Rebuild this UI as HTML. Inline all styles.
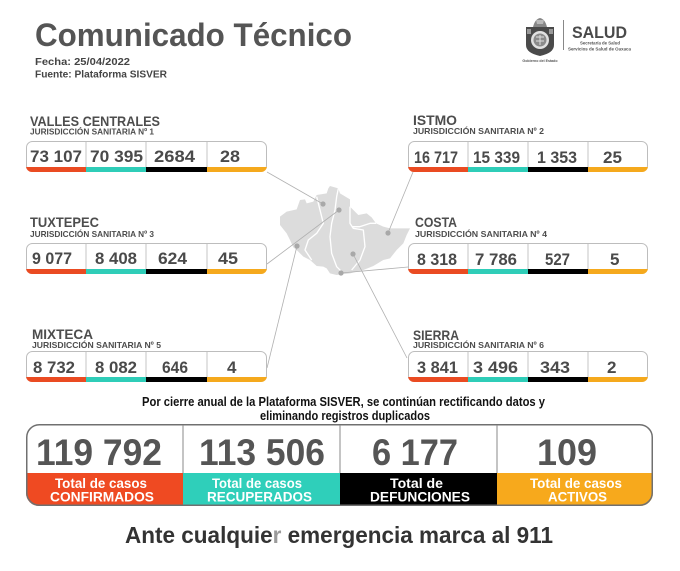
<!DOCTYPE html>
<html><head><meta charset="utf-8"><style>
html,body{margin:0;padding:0;background:#fff;}
svg{display:block;}
text{font-family:"Liberation Sans",sans-serif;font-weight:bold;}
</style></head><body>
<svg width="680" height="571" viewBox="0 0 680 571" xmlns="http://www.w3.org/2000/svg">
<defs>
<clipPath id="c1"><rect x="26" y="141" width="241" height="31" rx="6"/></clipPath>
<clipPath id="c2"><rect x="26" y="243" width="241" height="31" rx="6"/></clipPath>
<clipPath id="c3"><rect x="26" y="351" width="241" height="31" rx="6"/></clipPath>
<clipPath id="c4"><rect x="408" y="141" width="240" height="31" rx="6"/></clipPath>
<clipPath id="c5"><rect x="408" y="243" width="240" height="31" rx="6"/></clipPath>
<clipPath id="c6"><rect x="408" y="351" width="240" height="31" rx="6"/></clipPath>
<clipPath id="ct"><rect x="26" y="424" width="627" height="82" rx="13"/></clipPath>
</defs>

<!-- Header -->
<text x="35" y="46" font-size="32" fill="#555" textLength="317" lengthAdjust="spacingAndGlyphs">Comunicado Técnico</text>
<text x="35" y="65" font-size="10" fill="#444" textLength="95" lengthAdjust="spacingAndGlyphs">Fecha: 25/04/2022</text>
<text x="35" y="77.5" font-size="10" fill="#444" textLength="132" lengthAdjust="spacingAndGlyphs">Fuente: Plataforma SISVER</text>

<!-- Logo -->
<g>
  <path d="M533 27 Q535 19 540 18 Q545 19 547 27 Z" fill="#888"/>
  <path d="M536 20 L544 20 L543 24 L537 24 Z" fill="#bbb"/>
  <path d="M526 27 L554 27 L554 45 Q554 53 540 56 Q526 53 526 45 Z" fill="#4a4a4a"/>
  <circle cx="540" cy="40" r="9" fill="#e0e0e0"/>
  <circle cx="540" cy="40" r="6.5" fill="#8a8a8a"/>
  <path d="M536 37 L544 37 M536 41 L544 41 M540 35 L540 45" stroke="#ddd" stroke-width="1"/>
  <rect x="527" y="29" width="4" height="5" fill="#999"/>
  <rect x="549" y="29" width="4" height="5" fill="#999"/>
  <text x="540" y="62" font-size="3.6" fill="#555" text-anchor="middle" font-weight="normal">Gobierno del Estado</text>
  <line x1="563.5" y1="20" x2="563.5" y2="50" stroke="#888" stroke-width="1"/>
  <text x="572" y="38" font-size="16.5" fill="#4a4a4a" textLength="55" lengthAdjust="spacingAndGlyphs">SALUD</text>
  <text x="600" y="44.5" font-size="4.6" fill="#555" text-anchor="middle" textLength="40" lengthAdjust="spacingAndGlyphs">Secretaría de Salud</text>
  <text x="599.5" y="50.5" font-size="4.6" fill="#555" text-anchor="middle" textLength="63" lengthAdjust="spacingAndGlyphs">Servicios de Salud de Oaxaca</text>
</g>

<!-- Map -->
<g transform="translate(250,160) scale(0.33333)">
  <path d="M240 78 L265 85 L270 100 L300 118 L300 140 L325 165 L350 160 L365 172 L378 190 L400 200 L420 205 L480 205 L470 225 L460 250 L440 270 L420 295 L400 300 L370 318 L340 330 L300 340 L260 345 L240 340 L230 325 L220 320 L200 318 L180 300 L160 290 L140 270 L130 262 L120 240 L110 220 L90 195 L90 170 L110 155 L140 148 L150 120 L165 118 L170 130 L190 125 L200 105 L230 100 L235 85 Z" fill="#dcdcdc"/>
  <g fill="none" stroke="#fff" stroke-width="4" stroke-linejoin="round">
    <path d="M265 85 L260 110 L255 150 L245 190 L240 230 L245 280 L260 320 L275 335"/>
    <path d="M300 140 L300 190 L310 205 L340 210 L345 260 L330 300 L305 330"/>
    <path d="M305 200 L330 200 L360 190 L378 190"/>
    <path d="M200 110 L215 170 L220 190 L200 220 L175 240 L165 270 L185 300"/>
  </g>
</g>

<!-- Connector lines -->
<g stroke="#b0b0b0" stroke-width="0.8" fill="none">
  <line x1="267" y1="172" x2="323" y2="204"/>
  <line x1="267" y1="264" x2="339" y2="210"/>
  <line x1="267" y1="368" x2="297" y2="246"/>
  <line x1="413" y1="172" x2="388" y2="233"/>
  <line x1="408" y1="267" x2="341" y2="273"/>
  <line x1="353" y1="254" x2="407" y2="358"/>
</g>
<g fill="#a8a8a8">
  <circle cx="323" cy="204" r="2.6"/>
  <circle cx="339" cy="210" r="2.6"/>
  <circle cx="297" cy="246" r="2.6"/>
  <circle cx="388" cy="233" r="2.6"/>
  <circle cx="353" cy="254" r="2.6"/>
  <circle cx="341" cy="273" r="2.6"/>
</g>

<!-- Region boxes -->
<g id="boxes">
  <!-- Box template: left -->
  <rect x="26.5" y="141.5" width="240" height="30" rx="6" fill="#fff" stroke="#bdbdbd"/>
  <g clip-path="url(#c1)"><rect x="26" y="167" width="60" height="5" fill="#ea4b22"/><rect x="86" y="167" width="60" height="5" fill="#2fcdb8"/><rect x="146" y="167" width="61" height="5" fill="#000"/><rect x="207" y="167" width="60" height="5" fill="#f5a91d"/></g>
  <g stroke="#c4c4c4"><line x1="86" y1="142" x2="86" y2="167"/><line x1="146" y1="142" x2="146" y2="167"/><line x1="207" y1="142" x2="207" y2="167"/></g>

  <rect x="26.5" y="243.5" width="240" height="30" rx="6" fill="#fff" stroke="#bdbdbd"/>
  <g clip-path="url(#c2)"><rect x="26" y="269" width="60" height="5" fill="#ea4b22"/><rect x="86" y="269" width="60" height="5" fill="#2fcdb8"/><rect x="146" y="269" width="61" height="5" fill="#000"/><rect x="207" y="269" width="60" height="5" fill="#f5a91d"/></g>
  <g stroke="#c4c4c4"><line x1="86" y1="244" x2="86" y2="269"/><line x1="146" y1="244" x2="146" y2="269"/><line x1="207" y1="244" x2="207" y2="269"/></g>

  <rect x="26.5" y="351.5" width="240" height="30" rx="6" fill="#fff" stroke="#bdbdbd"/>
  <g clip-path="url(#c3)"><rect x="26" y="377" width="60" height="5" fill="#ea4b22"/><rect x="86" y="377" width="60" height="5" fill="#2fcdb8"/><rect x="146" y="377" width="61" height="5" fill="#000"/><rect x="207" y="377" width="60" height="5" fill="#f5a91d"/></g>
  <g stroke="#c4c4c4"><line x1="86" y1="352" x2="86" y2="377"/><line x1="146" y1="352" x2="146" y2="377"/><line x1="207" y1="352" x2="207" y2="377"/></g>

  <rect x="408.5" y="141.5" width="239" height="30" rx="6" fill="#fff" stroke="#bdbdbd"/>
  <g clip-path="url(#c4)"><rect x="408" y="167" width="60" height="5" fill="#ea4b22"/><rect x="468" y="167" width="60" height="5" fill="#2fcdb8"/><rect x="528" y="167" width="60" height="5" fill="#000"/><rect x="588" y="167" width="60" height="5" fill="#f5a91d"/></g>
  <g stroke="#c4c4c4"><line x1="468" y1="142" x2="468" y2="167"/><line x1="528" y1="142" x2="528" y2="167"/><line x1="588" y1="142" x2="588" y2="167"/></g>

  <rect x="408.5" y="243.5" width="239" height="30" rx="6" fill="#fff" stroke="#bdbdbd"/>
  <g clip-path="url(#c5)"><rect x="408" y="269" width="60" height="5" fill="#ea4b22"/><rect x="468" y="269" width="60" height="5" fill="#2fcdb8"/><rect x="528" y="269" width="60" height="5" fill="#000"/><rect x="588" y="269" width="60" height="5" fill="#f5a91d"/></g>
  <g stroke="#c4c4c4"><line x1="468" y1="244" x2="468" y2="269"/><line x1="528" y1="244" x2="528" y2="269"/><line x1="588" y1="244" x2="588" y2="269"/></g>

  <rect x="408.5" y="351.5" width="239" height="30" rx="6" fill="#fff" stroke="#bdbdbd"/>
  <g clip-path="url(#c6)"><rect x="408" y="377" width="60" height="5" fill="#ea4b22"/><rect x="468" y="377" width="60" height="5" fill="#2fcdb8"/><rect x="528" y="377" width="60" height="5" fill="#000"/><rect x="588" y="377" width="60" height="5" fill="#f5a91d"/></g>
  <g stroke="#c4c4c4"><line x1="468" y1="352" x2="468" y2="377"/><line x1="528" y1="352" x2="528" y2="377"/><line x1="588" y1="352" x2="588" y2="377"/></g>
</g>

<!-- Region titles -->
<g fill="#4d4d4d">
  <text x="30" y="126" font-size="14" textLength="130" lengthAdjust="spacingAndGlyphs">VALLES CENTRALES</text>
  <text x="30" y="134.5" font-size="8.5" textLength="124" lengthAdjust="spacingAndGlyphs">JURISDICCIÓN SANITARIA Nº 1</text>
  <text x="30" y="227" font-size="14" textLength="69" lengthAdjust="spacingAndGlyphs">TUXTEPEC</text>
  <text x="30" y="237" font-size="8.5" textLength="124" lengthAdjust="spacingAndGlyphs">JURISDICCIÓN SANITARIA Nº 3</text>
  <text x="32" y="339" font-size="14" textLength="61" lengthAdjust="spacingAndGlyphs">MIXTECA</text>
  <text x="32" y="348" font-size="8.5" textLength="129" lengthAdjust="spacingAndGlyphs">JURISDICCIÓN SANITARIA Nº 5</text>
  <text x="413" y="125" font-size="14" textLength="44" lengthAdjust="spacingAndGlyphs">ISTMO</text>
  <text x="413" y="134" font-size="8.5" textLength="131" lengthAdjust="spacingAndGlyphs">JURISDICCIÓN SANITARIA Nº 2</text>
  <text x="415" y="227" font-size="14" textLength="42" lengthAdjust="spacingAndGlyphs">COSTA</text>
  <text x="415" y="237" font-size="8.5" textLength="132" lengthAdjust="spacingAndGlyphs">JURISDICCIÓN SANITARIA Nº 4</text>
  <text x="413" y="340" font-size="14" textLength="46" lengthAdjust="spacingAndGlyphs">SIERRA</text>
  <text x="413" y="348" font-size="8.5" textLength="131" lengthAdjust="spacingAndGlyphs">JURISDICCIÓN SANITARIA Nº 6</text>
</g>

<!-- Region numbers -->
<g fill="#4a4a4a" font-size="17">
  <text x="30" y="162" textLength="52" lengthAdjust="spacingAndGlyphs">73 107</text>
  <text x="90" y="162" textLength="53" lengthAdjust="spacingAndGlyphs">70 395</text>
  <text x="154" y="162" textLength="41" lengthAdjust="spacingAndGlyphs">2684</text>
  <text x="220" y="162" textLength="20" lengthAdjust="spacingAndGlyphs">28</text>

  <text x="32" y="264" textLength="40" lengthAdjust="spacingAndGlyphs">9 077</text>
  <text x="95" y="264" textLength="42" lengthAdjust="spacingAndGlyphs">8 408</text>
  <text x="158" y="264" textLength="29" lengthAdjust="spacingAndGlyphs">624</text>
  <text x="218" y="264" textLength="20" lengthAdjust="spacingAndGlyphs">45</text>

  <text x="33" y="373" textLength="42" lengthAdjust="spacingAndGlyphs">8 732</text>
  <text x="95" y="373" textLength="42" lengthAdjust="spacingAndGlyphs">8 082</text>
  <text x="162" y="373" textLength="26" lengthAdjust="spacingAndGlyphs">646</text>
  <text x="227" y="373">4</text>

  <text x="414" y="163" textLength="44" lengthAdjust="spacingAndGlyphs">16 717</text>
  <text x="473" y="163" textLength="47" lengthAdjust="spacingAndGlyphs">15 339</text>
  <text x="537" y="163" textLength="40" lengthAdjust="spacingAndGlyphs">1 353</text>
  <text x="603" y="163" textLength="19" lengthAdjust="spacingAndGlyphs">25</text>

  <text x="417" y="265" textLength="40" lengthAdjust="spacingAndGlyphs">8 318</text>
  <text x="475" y="265" textLength="42" lengthAdjust="spacingAndGlyphs">7 786</text>
  <text x="545" y="265" textLength="25" lengthAdjust="spacingAndGlyphs">527</text>
  <text x="610" y="265">5</text>

  <text x="417" y="373" textLength="41" lengthAdjust="spacingAndGlyphs">3 841</text>
  <text x="473" y="373" textLength="45" lengthAdjust="spacingAndGlyphs">3 496</text>
  <text x="540" y="373" textLength="30" lengthAdjust="spacingAndGlyphs">343</text>
  <text x="607" y="373">2</text>
</g>

<!-- Notice -->
<text x="142" y="406" font-size="12.5" fill="#111" textLength="403" lengthAdjust="spacingAndGlyphs">Por cierre anual de la Plataforma SISVER, se continúan rectificando datos y</text>
<text x="260" y="420" font-size="12.5" fill="#111" textLength="170" lengthAdjust="spacingAndGlyphs">eliminando registros duplicados</text>

<!-- Totals box -->
<rect x="26" y="424" width="627" height="82" rx="13" fill="#fff"/>
<g clip-path="url(#ct)">
  <rect x="26" y="473" width="157" height="33" fill="#ef4a22"/>
  <rect x="183" y="473" width="157" height="33" fill="#2fcfba"/>
  <rect x="340" y="473" width="157" height="33" fill="#000"/>
  <rect x="497" y="473" width="156" height="33" fill="#f7a91c"/>
</g>
<rect x="26.75" y="424.75" width="625.5" height="80.5" rx="12.5" fill="none" stroke="#707070" stroke-width="1.5"/>
<g stroke="#8a8a8a" stroke-width="1"><line x1="183" y1="425" x2="183" y2="473"/><line x1="340" y1="425" x2="340" y2="473"/><line x1="497" y1="425" x2="497" y2="473"/></g>

<g fill="#555" font-size="37">
  <text x="36" y="465" textLength="126" lengthAdjust="spacingAndGlyphs">119 792</text>
  <text x="199" y="465" textLength="126" lengthAdjust="spacingAndGlyphs">113 506</text>
  <text x="372" y="465" textLength="86" lengthAdjust="spacingAndGlyphs">6 177</text>
  <text x="537" y="465" textLength="60" lengthAdjust="spacingAndGlyphs">109</text>
</g>
<g fill="#fff" font-size="14" text-anchor="middle">
  <text x="101" y="488" textLength="92" lengthAdjust="spacingAndGlyphs">Total de casos</text>
  <text x="102" y="501.5" textLength="104" lengthAdjust="spacingAndGlyphs">CONFIRMADOS</text>
  <text x="257" y="488" textLength="90" lengthAdjust="spacingAndGlyphs">Total de casos</text>
  <text x="259.5" y="501.5" textLength="105" lengthAdjust="spacingAndGlyphs">RECUPERADOS</text>
  <text x="416.5" y="488" textLength="53" lengthAdjust="spacingAndGlyphs">Total de</text>
  <text x="420" y="501.5" textLength="100" lengthAdjust="spacingAndGlyphs">DEFUNCIONES</text>
  <text x="576" y="488" textLength="92" lengthAdjust="spacingAndGlyphs">Total de casos</text>
  <text x="577.5" y="501.5" textLength="59" lengthAdjust="spacingAndGlyphs">ACTIVOS</text>
</g>

<!-- Footer -->
<text x="125" y="543" font-size="23" fill="#333" textLength="428" lengthAdjust="spacingAndGlyphs">Ante cualquie<tspan fill="#9a9a9a">r</tspan> emergencia marca al 911</text>
</svg>
</body></html>
